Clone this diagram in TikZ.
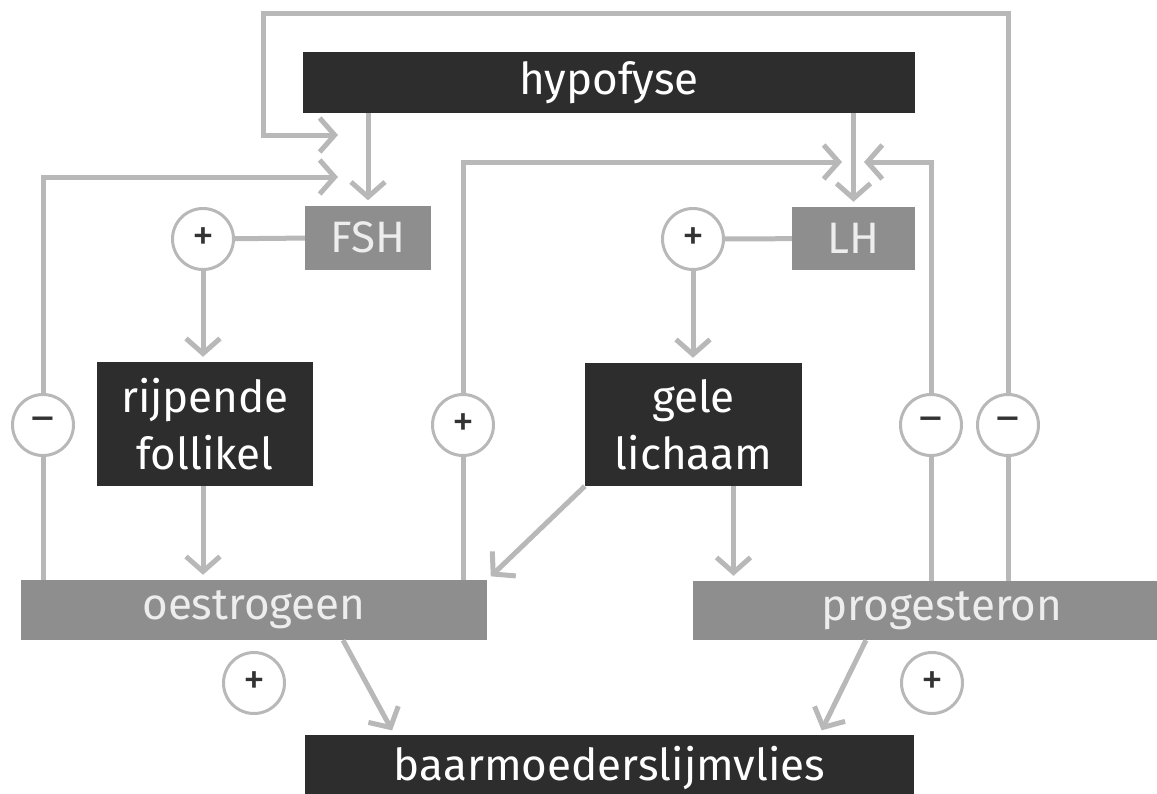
\documentclass[tikz,border=0pt]{standalone}
\usepackage{fontspec}
\setmainfont{Fira Sans}
\usetikzlibrary{arrows.meta}

\definecolor{darkbox}{HTML}{2D2D2D}
\definecolor{midbox}{HTML}{8E8E8E}
\definecolor{linegray}{HTML}{B8B8B8}

\tikzstyle{box-dark} = [rectangle, fill=darkbox, text=white, text centered, align=center, inner sep=0pt]
\tikzstyle{box-gray} = [rectangle, fill=midbox, text=white!93!black, text centered, inner sep=0pt]
\tikzstyle{sign} = [circle, draw=linegray, line width=3pt, fill=white, minimum size=61pt, inner sep=0pt, text=black!80]
\tikzstyle{line} = [draw=linegray, line width=5pt]
\tikzstyle{arrow} = [line, -{Straight Barb[length=15pt,width=34pt]}]
\tikzstyle{arrow-gap} = [arrow, shorten >=5pt]

\begin{document}
\begin{tikzpicture}[x=1pt, y=-1pt, font=\fontsize{44}{57}\selectfont]
  \useasboundingbox (0,0) rectangle (1157,793);

  \node (hypofyse) [box-dark, minimum width=612pt, minimum height=61pt] at (609,82.5) {hypofyse};
  \node (fsh) [box-gray, minimum width=126pt, minimum height=64pt] at (368,237.5) {FSH};
  \node (lh) [box-gray, minimum width=123pt, minimum height=63pt] at (853.5,238.5) {LH};
  \node (plus_fsh) [sign] at (203,239) {+};
  \node (plus_lh) [sign] at (693,239) {+};
  \node (rijp) [box-dark, minimum width=216pt, minimum height=124pt] at (205,424) {rijpende\\follikel};
  \node (gele) [box-dark, minimum width=217pt, minimum height=123pt] at (693.5,424.5) {gele\\lichaam};
  \node (min_oes) [sign] at (43,425) {–};
  \node (plus_oes) [sign] at (463,425) {+};
  \node (min_pro1) [sign] at (931,425) {–};
  \node (min_pro2) [sign] at (1008,425) {–};
  \node (oestrogeen) [box-gray, minimum width=466pt, minimum height=60pt] at (254,610) {oestrogeen};
  \node (progesteron) [box-gray, minimum width=498pt, minimum height=59pt] at (942,610.5) {progesteron};
  \node (plus_oes_b) [sign] at (254,683) {+};
  \node (plus_pro_b) [sign] at (932,683) {+};
  \node (baar) [box-dark, minimum width=609pt, minimum height=65pt] at (609.5,767.5) {baarmoederslijmvlies};

  \coordinate (loop_corner) at (263,13);
  \coordinate (fsh_in1) at (338,135);
  \coordinate (fsh_in2) at (338,177);
  \coordinate (lh_in1) at (842,162);
  \coordinate (lh_in2) at (864,162);
  \coordinate (gele_out) at ([xshift=40pt]gele.south);
  \coordinate (oes_out) at ([xshift=89pt]oestrogeen.south);
  \coordinate (pro_out) at ([xshift=-76pt]progesteron.south);

  \draw [arrow-gap] (hypofyse.south -| fsh) -- (fsh);
  \draw [arrow-gap] (hypofyse.south -| lh) -- (lh);
  \draw [line] (plus_fsh) -- (fsh);
  \draw [line] (plus_lh) -- (lh);
  \draw [arrow-gap] (plus_fsh) -- (plus_fsh |- rijp.north);
  \draw [arrow-gap] (plus_lh) -- (plus_lh |- gele.north);
  \draw [arrow-gap] (rijp.south -| plus_fsh) -- (oestrogeen.north -| plus_fsh);
  \draw [arrow-gap] (gele.south west) -- (oestrogeen.north east);
  \draw [arrow-gap] (gele_out) -- (gele_out |- progesteron.north);

  \draw [line] (oestrogeen.north -| min_oes) -- (min_oes);
  \draw [arrow] (min_oes) |- (fsh_in2);
  \draw [line] (oestrogeen.north -| plus_oes) -- (plus_oes);
  \draw [arrow] (plus_oes) |- (lh_in1);
  \draw [line] (progesteron.north -| min_pro1) -- (min_pro1);
  \draw [arrow] (min_pro1) |- (lh_in2);
  \draw [line] (progesteron.north -| min_pro2) -- (min_pro2);
  \draw [arrow] (min_pro2) |- (loop_corner) |- (fsh_in1);

  \draw [arrow-gap] (oes_out) -- ([xshift=-215pt]baar.north);
  \draw [arrow-gap] (pro_out) -- ([xshift=210pt]baar.north);
\end{tikzpicture}
\end{document}
